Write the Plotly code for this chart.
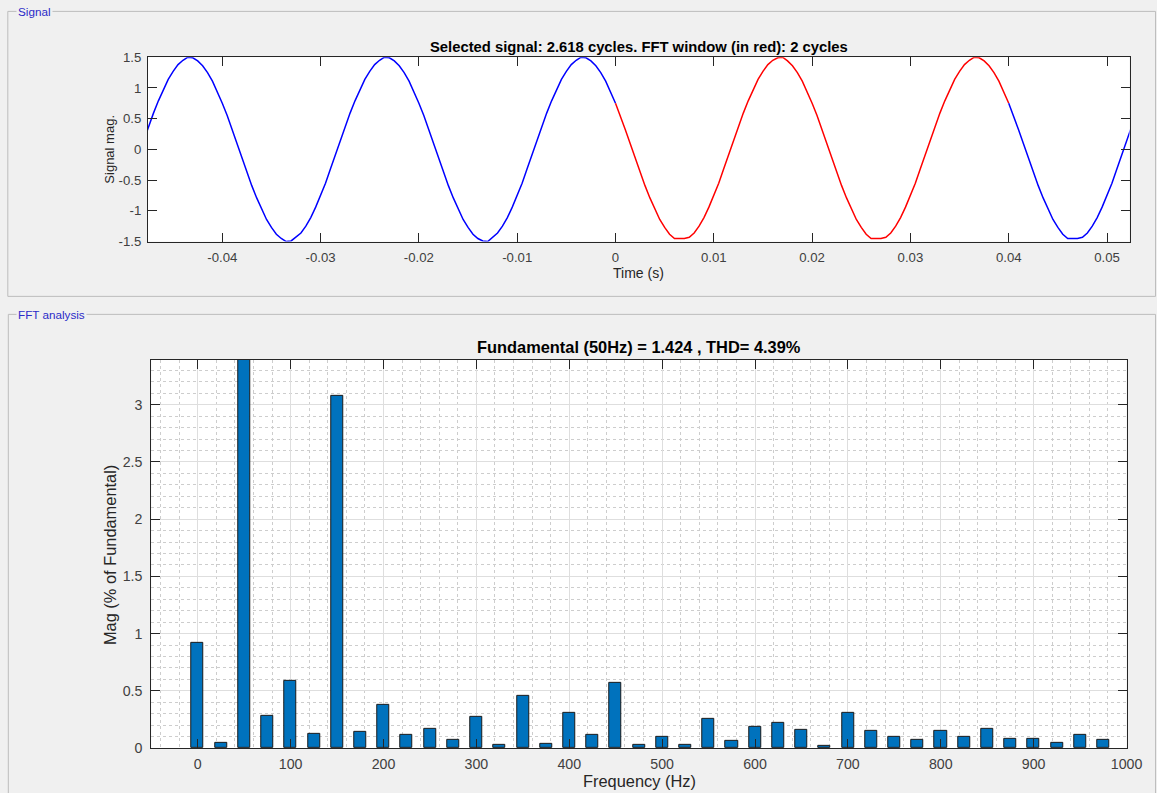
import plotly.graph_objects as go

W, H = 1157, 793

# ---------------- data ----------------
sample_t0 = -0.048      # s, time of first sample
sample_dt = 0.0005      # s, sampling step
fft_start_idx = 96      # first sample of the FFT window (t = 0)
fft_end_idx = 176       # last sample of the FFT window (t = 0.04)

signal_mag = [
    0.14, 0.37, 0.59, 0.79, 0.98, 1.14, 1.27, 1.38, 1.45, 1.50, 1.49, 1.44, 1.36, 1.25, 1.11, 0.94, 0.75, 0.55, 0.32, 0.09,
    -0.14, -0.37, -0.59, -0.79, -0.98, -1.14, -1.27, -1.38, -1.45, -1.50, -1.49, -1.43, -1.36, -1.25, -1.11, -0.94, -0.75, -0.55, -0.32, -0.09,
    0.14, 0.37, 0.59, 0.79, 0.98, 1.14, 1.27, 1.38, 1.45, 1.50, 1.49, 1.44, 1.36, 1.25, 1.11, 0.94, 0.75, 0.55, 0.32, 0.09,
    -0.14, -0.37, -0.59, -0.79, -0.98, -1.14, -1.27, -1.38, -1.45, -1.49, -1.50, -1.43, -1.36, -1.25, -1.11, -0.94, -0.75, -0.55, -0.32, -0.09,
    0.14, 0.37, 0.59, 0.79, 0.98, 1.14, 1.27, 1.38, 1.45, 1.50, 1.49, 1.44, 1.36, 1.25, 1.11, 0.94, 0.75, 0.55, 0.32, 0.09,
    -0.14, -0.37, -0.59, -0.79, -0.98, -1.14, -1.27, -1.38, -1.45, -1.45, -1.45, -1.43, -1.36, -1.25, -1.11, -0.94, -0.75, -0.55, -0.32, -0.09,
    0.14, 0.37, 0.59, 0.79, 0.98, 1.14, 1.27, 1.38, 1.45, 1.49, 1.50, 1.44, 1.36, 1.25, 1.11, 0.94, 0.75, 0.55, 0.32, 0.09,
    -0.14, -0.37, -0.59, -0.79, -0.98, -1.14, -1.27, -1.38, -1.45, -1.45, -1.45, -1.43, -1.36, -1.25, -1.11, -0.94, -0.75, -0.55, -0.32, -0.09,
    0.14, 0.37, 0.59, 0.79, 0.98, 1.14, 1.27, 1.38, 1.45, 1.50, 1.49, 1.44, 1.36, 1.25, 1.11, 0.94, 0.75, 0.55, 0.32, 0.09,
    -0.14, -0.37, -0.59, -0.79, -0.98, -1.14, -1.27, -1.38, -1.45, -1.45, -1.45, -1.43, -1.36, -1.25, -1.11, -0.94, -0.75, -0.55, -0.32, -0.09,
    0.14, 0.37,
]

freq_hz = [0, 25, 50, 75, 100, 125, 150, 175, 200, 225, 250, 275, 300, 325, 350, 375,
           400, 425, 450, 475, 500, 525, 550, 575, 600, 625, 650, 675, 700, 725, 750, 775,
           800, 825, 850, 875, 900, 925, 950, 975]
mag_pct = [0.92, 0.045, 100.0, 0.28, 0.59, 0.123, 3.08, 0.14, 0.377, 0.114, 0.169, 0.07,
           0.277, 0.032, 0.453, 0.038, 0.31, 0.12, 0.567, 0.029, 0.102, 0.029, 0.257, 0.064,
           0.184, 0.222, 0.158, 0.02, 0.31, 0.149, 0.094, 0.076, 0.149, 0.102, 0.167, 0.085,
           0.085, 0.047, 0.12, 0.076]

sig_xticks = [-0.04, -0.03, -0.02, -0.01, 0, 0.01, 0.02, 0.03, 0.04, 0.05]
sig_xtext = ["-0.04", "-0.03", "-0.02", "-0.01", "0", "0.01", "0.02", "0.03", "0.04", "0.05"]
sig_yticks = [-1.5, -1, -0.5, 0, 0.5, 1, 1.5]
sig_ytext = ["-1.5", "-1", "-0.5", "0", "0.5", "1", "1.5"]
fft_xticks = [0, 100, 200, 300, 400, 500, 600, 700, 800, 900, 1000]
fft_xtext = ["0", "100", "200", "300", "400", "500", "600", "700", "800", "900", "1000"]
fft_yticks = [0, 0.5, 1, 1.5, 2, 2.5, 3]
fft_ytext = ["0", "0.5", "1", "1.5", "2", "2.5", "3"]

title_sig = "Selected signal: 2.618 cycles. FFT window (in red): 2 cycles"
title_fft = "Fundamental (50Hz) = 1.424 , THD= 4.39%"

# ---------------- helpers ----------------
FONT = "Liberation Sans, Arial, Helvetica, sans-serif"
AX = "#262626"
TICKC = "#404040"

# the page is photographed slightly scaled; map target pixel positions into figure space
SX, OX = 0.9864, -0.3
SY, OY = 0.9812, 7.1


def px(r):
    return ((r - OX) / SX) / W


def py(r):
    return 1 - ((r - OY) / SY) / H


fig = go.Figure()

blue1 = signal_mag[0:fft_start_idx + 1]
red = signal_mag[fft_start_idx:fft_end_idx + 1]
blue2 = signal_mag[fft_end_idx:]

fig.add_trace(go.Scatter(y=blue1, x0=sample_t0, dx=sample_dt, mode="lines",
                         line=dict(color="#0000FF", width=1.5),
                         xaxis="x", yaxis="y", showlegend=False))
fig.add_trace(go.Scatter(y=red, x0=sample_t0 + fft_start_idx * sample_dt, dx=sample_dt, mode="lines",
                         line=dict(color="#FF0000", width=1.5),
                         xaxis="x", yaxis="y", showlegend=False))
fig.add_trace(go.Scatter(y=blue2, x0=sample_t0 + fft_end_idx * sample_dt, dx=sample_dt, mode="lines",
                         line=dict(color="#0000FF", width=1.5),
                         xaxis="x", yaxis="y", showlegend=False))

fig.add_trace(go.Bar(x=freq_hz, y=mag_pct, width=13,
                     marker=dict(color="#0072BD", line=dict(color="#1a1a1a", width=1)),
                     xaxis="x2", yaxis="y2", showlegend=False))

common_axis = dict(showline=True, linecolor=AX, linewidth=1, mirror="ticks",
                   ticks="inside", ticklen=9, tickcolor=AX, tickwidth=1,
                   zeroline=False, fixedrange=True)

fig.update_layout(
    width=W, height=H,
    margin=dict(l=0, r=0, t=0, b=0),
    paper_bgcolor="#f0f0f0",
    plot_bgcolor="white",
    font=dict(family=FONT, color=AX),
    bargap=0,
    xaxis=dict(domain=[px(147.7), px(1129.5)], anchor="y", range=[-0.04756, 0.05229],
               tickvals=sig_xticks, ticktext=sig_xtext, showgrid=False,
               tickfont=dict(size=13.2, color=TICKC), ticklabelstandoff=4,
               ticklabeloverflow="allow", **common_axis),
    yaxis=dict(domain=[py(241.7), py(57.3)], anchor="x", range=[-1.5, 1.5],
               tickvals=sig_yticks, ticktext=sig_ytext, showgrid=False,
               tickfont=dict(size=13.2, color=TICKC), ticklabelstandoff=3, **common_axis),
    xaxis2=dict(domain=[px(151), px(1126.5)], anchor="y2", range=[-50, 1000],
                tickvals=fft_xticks, ticktext=fft_xtext,
                showgrid=True, gridcolor="#dedede", gridwidth=1,
                minor=dict(dtick=20, tick0=0, showgrid=True, gridcolor="#cdcdcd",
                           griddash="dot", gridwidth=1, ticks=""),
                tickfont=dict(size=14.2, color=TICKC), ticklabelstandoff=3,
                ticklabeloverflow="allow", **common_axis),
    yaxis2=dict(domain=[py(748.3), py(360)], anchor="x2", range=[0, 3.392],
                tickvals=fft_yticks, ticktext=fft_ytext,
                showgrid=True, gridcolor="#dedede", gridwidth=1,
                minor=dict(dtick=0.1, tick0=0, showgrid=True, gridcolor="#cdcdcd",
                           griddash="dot", gridwidth=1, ticks=""),
                tickfont=dict(size=14.2, color=TICKC), ticklabelstandoff=5, **common_axis),
)

box_line = dict(color="#bcbcbc", width=1)
fig.add_shape(type="rect", xref="paper", yref="paper",
              x0=px(7.5), x1=px(1155.5), y0=py(296.5), y1=py(11.5), line=box_line, layer="below")
fig.add_shape(type="rect", xref="paper", yref="paper",
              x0=px(8), x1=px(1155.5), y0=py(805), y1=py(314.5), line=box_line, layer="below")

annos = [
    dict(text="Signal", x=px(15.5), y=py(12), xanchor="left", yanchor="middle",
         font=dict(size=11.7, color="#2b2bc8"), bgcolor="#f0f0f0", borderpad=1),
    dict(text="FFT analysis", x=px(15.5), y=py(315), xanchor="left", yanchor="middle",
         font=dict(size=11.7, color="#2b2bc8"), bgcolor="#f0f0f0", borderpad=1),
    dict(text="<b>" + title_sig + "</b>", x=px(639), y=py(47), xanchor="center", yanchor="middle",
         font=dict(size=14.8, color="#000000")),
    dict(text="<b>" + title_fft + "</b>", x=px(639), y=py(347.5), xanchor="center", yanchor="middle",
         font=dict(size=16.4, color="#000000")),
    dict(text="Time (s)", x=px(638.5), y=py(273), xanchor="center", yanchor="middle",
         font=dict(size=14, color=AX)),
    dict(text="Signal mag.", x=px(109), y=py(149.5), xanchor="center", yanchor="middle",
         textangle=-90, font=dict(size=13, color=AX)),
    dict(text="Frequency (Hz)", x=px(639.5), y=py(781), xanchor="center", yanchor="middle",
         font=dict(size=16.4, color=AX)),
    dict(text="Mag (% of Fundamental)", x=px(110), y=py(555), xanchor="center", yanchor="middle",
         textangle=-90, font=dict(size=16.4, color=AX)),
]
for a in annos:
    a.update(xref="paper", yref="paper", showarrow=False)
    fig.add_annotation(**a)

fig.write_html("out.html")
